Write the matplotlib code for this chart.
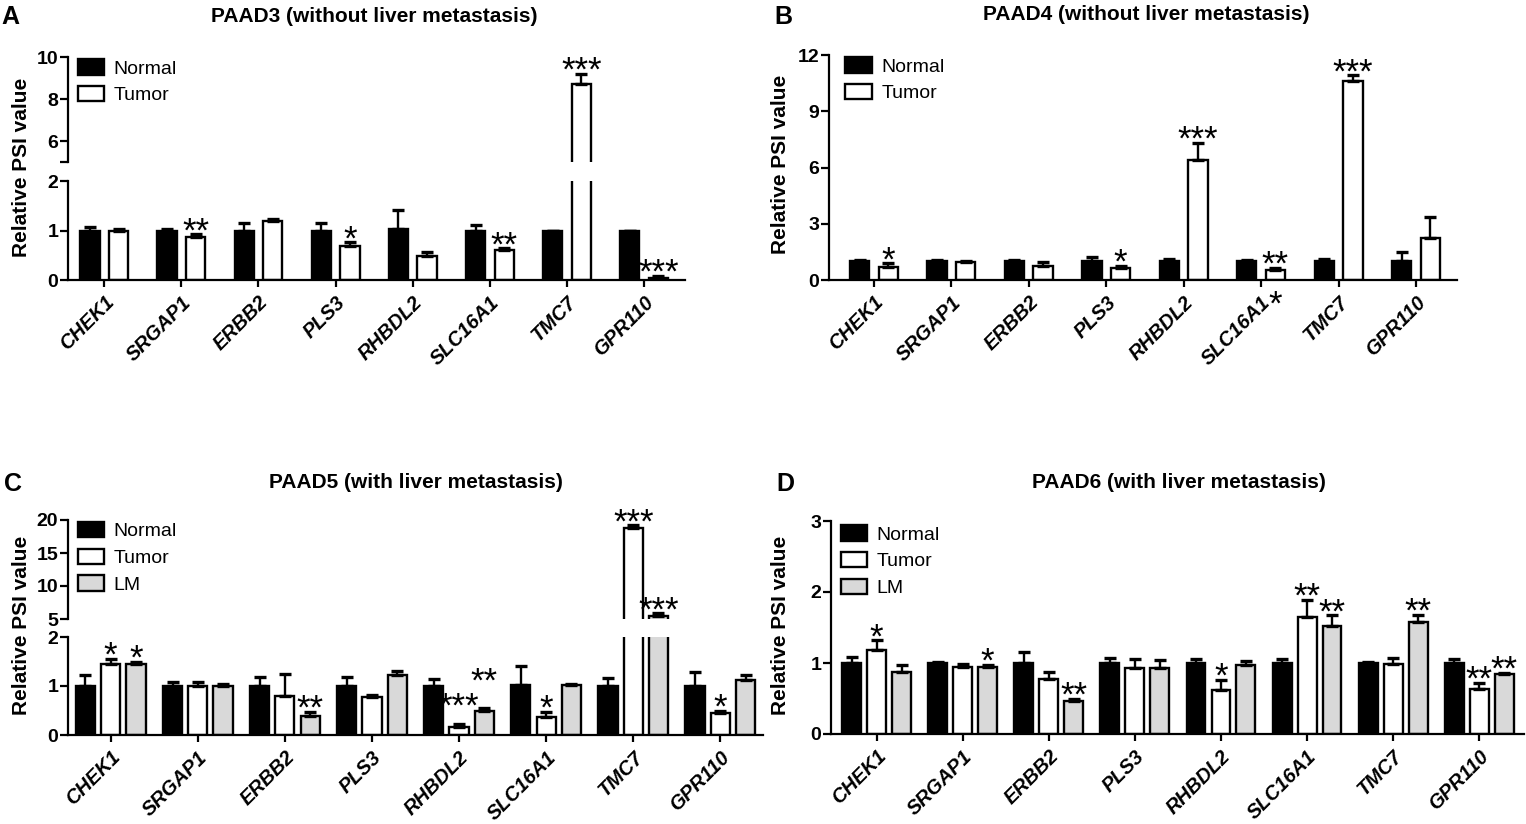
import numpy as np
import matplotlib.pyplot as plt

plt.rcParams['font.family'] = ['Liberation Sans', 'DejaVu Sans']

genes = ["CHEK1", "SRGAP1", "ERBB2", "PLS3", "RHBDL2", "SLC16A1", "TMC7", "GPR110"]

# A: PAAD3 (without liver metastasis)
a_normal = [1.0, 1.0, 1.0, 1.0, 1.03, 1.0, 1.0, 1.0]
a_normal_err = [0.07, 0.04, 0.16, 0.15, 0.39, 0.11, 0.0, 0.0]
a_tumor = [0.98, 0.87, 1.19, 0.69, 0.48, 0.60, 8.7, 0.05]
a_tumor_err = [0.05, 0.05, 0.05, 0.07, 0.08, 0.04, 0.5, 0.04]
a_tumor_sig = ["", "**", "", "*", "", "**", "***", "***"]

# B: PAAD4 (without liver metastasis)
b_normal = [1.0, 1.0, 1.0, 1.0, 1.0, 1.0, 1.0, 1.0]
b_normal_err = [0.05, 0.07, 0.05, 0.24, 0.12, 0.07, 0.1, 0.47]
b_tumor = [0.71, 0.95, 0.76, 0.65, 6.4, 0.55, 10.62, 2.26]
b_tumor_err = [0.18, 0.04, 0.18, 0.11, 0.93, 0.11, 0.3, 1.1]
b_tumor_sig = ["*", "", "", "*", "***", "**", "***", ""]

# C: PAAD5 (with liver metastasis)
c_normal = [1.0, 1.0, 1.0, 1.0, 1.0, 1.03, 1.0, 1.0]
c_normal_err = [0.23, 0.09, 0.18, 0.18, 0.14, 0.37, 0.16, 0.28]
c_tumor = [1.45, 1.0, 0.80, 0.78, 0.17, 0.37, 18.8, 0.44]
c_tumor_err = [0.1, 0.09, 0.45, 0.04, 0.05, 0.1, 0.4, 0.05]
c_tumor_sig = ["*", "", "", "", "***", "*", "***", "*"]
c_lm = [1.45, 1.0, 0.38, 1.23, 0.50, 1.02, 5.5, 1.13]
c_lm_err = [0.05, 0.04, 0.09, 0.08, 0.05, 0.03, 0.35, 0.1]
c_lm_sig = ["*", "", "**", "", "**", "", "***", ""]

# D: PAAD6 (with liver metastasis)
d_normal = [1.0, 1.0, 1.0, 1.0, 1.0, 1.0, 1.0, 1.0]
d_normal_err = [0.08, 0.02, 0.16, 0.07, 0.05, 0.05, 0.01, 0.05]
d_tumor = [1.19, 0.95, 0.78, 0.93, 0.62, 1.65, 0.98, 0.63]
d_tumor_err = [0.13, 0.03, 0.09, 0.12, 0.14, 0.24, 0.09, 0.09]
d_tumor_sig = ["*", "", "", "", "*", "**", "", "**"]
d_lm = [0.88, 0.94, 0.46, 0.93, 0.97, 1.52, 1.58, 0.84]
d_lm_err = [0.09, 0.03, 0.04, 0.11, 0.06, 0.15, 0.1, 0.02]
d_lm_sig = ["", "*", "**", "", "", "**", "**", "**"]

W, H = 1526, 824
fig = plt.figure(figsize=(W / 100, H / 100), dpi=100)


def rect(l, t, r, b):
    return [l / W, 1 - b / H, (r - l) / W, (b - t) / H]


def style(ax, bottom=True):
    ax.spines['top'].set_visible(False)
    ax.spines['right'].set_visible(False)
    ax.spines['left'].set_linewidth(1.6)
    ax.spines['bottom'].set_linewidth(1.6)
    ax.tick_params(axis='y', direction='out', length=6, width=1.6, labelsize=14, pad=1)
    for t in ax.get_yticklabels():
        t.set_fontweight('bold')
    if bottom:
        ax.tick_params(axis='x', direction='out', length=5, width=1.6, pad=4)
        ax.set_xticks(np.arange(len(genes)))
        ax.set_xticklabels(genes, rotation=45, ha='right', rotation_mode='anchor',
                           fontsize=14.5, fontweight='bold', fontstyle='italic')
    else:
        ax.spines['bottom'].set_visible(False)
        ax.tick_params(axis='x', bottom=False, labelbottom=False)


def draw(ax, series, offsets, width, star_y=None):
    x = np.arange(len(genes))
    handles = []
    for i, ((vals, errs, sig, color), off) in enumerate(zip(series, offsets)):
        vals = np.array(vals)
        errs = np.array(errs)
        h = ax.bar(x + off, vals, width, color=color, edgecolor='black', linewidth=1.7, zorder=2)
        handles.append(h)
        ax.errorbar(x + off, vals, yerr=[np.zeros(len(vals)), errs], fmt='none', ecolor='black',
                    elinewidth=1.7, capsize=4.5, capthick=2.4, zorder=3)
        if sig is None:
            continue
        for j, s in enumerate(sig):
            if not s:
                continue
            y = vals[j] + errs[j]
            if star_y and (j, i) in star_y:
                y = star_y[(j, i)]
            ax.annotate(s, (x[j] + off, y), xytext=(0, -5), textcoords='offset points',
                        ha='center', va='baseline', fontsize=25)
    return handles


def legend(ax, handles, labels, anchor):
    ax.legend(handles, labels, loc='upper left', bbox_to_anchor=anchor, frameon=False,
              fontsize=14, handlelength=1.35, handleheight=0.85, handletextpad=0.5,
              labelspacing=0.42, borderaxespad=0, borderpad=0)


off2 = [-0.185, 0.185]
off3 = [-0.29, 0.0, 0.29]
black, white, grey = 'black', 'white', '#d9d9d9'

# ---- A (broken axis) ----
a_series = [(a_normal, a_normal_err, None, black), (a_tumor, a_tumor_err, a_tumor_sig, white)]
axA1 = fig.add_axes(rect(68, 57, 685, 162))
axA0 = fig.add_axes(rect(68, 181, 685, 280))
for ax, lim in [(axA1, (5, 10)), (axA0, (0, 2))]:
    hs = draw(ax, a_series, off2, 0.25)
    ax.set_ylim(*lim)
    ax.set_xlim(-0.47, 7.53)
axA1.set_yticks([5, 6, 8, 10])
axA1.set_yticklabels(['', '6', '8', '10'])
axA0.set_yticks([0, 1, 2])
style(axA1, bottom=False)
style(axA0)
legend(axA1, hs, ['Normal', 'Tumor'], (0.016, 0.98))

# ---- B ----
b_series = [(b_normal, b_normal_err, None, black), (b_tumor, b_tumor_err, b_tumor_sig, white)]
axB = fig.add_axes(rect(829, 55, 1457, 280))
hs = draw(axB, b_series, off2, 0.25)
axB.set_ylim(0, 12)
axB.set_xlim(-0.58, 7.53)
axB.set_yticks([0, 3, 6, 9, 12])
style(axB)
legend(axB, hs, ['Normal', 'Tumor'], (0.026, 0.99))
axB.annotate('*', (5 + off2[1], 0), xytext=(0, -25), textcoords='offset points',
             ha='center', va='baseline', fontsize=25, annotation_clip=False)

# ---- C (broken axis) ----
c_series = [(c_normal, c_normal_err, None, black), (c_tumor, c_tumor_err, c_tumor_sig, white),
            (c_lm, c_lm_err, c_lm_sig, grey)]
c_star_y = {(4, 1): 0.52, (4, 2): 1.02}
axC1 = fig.add_axes(rect(68, 520, 763, 619))
axC0 = fig.add_axes(rect(68, 637, 763, 735))
for ax, lim in [(axC1, (5, 20)), (axC0, (0, 2))]:
    hs = draw(ax, c_series, off3, 0.22, c_star_y)
    ax.set_ylim(*lim)
    ax.set_xlim(-0.49, 7.49)
axC1.set_yticks([5, 10, 15, 20])
axC0.set_yticks([0, 1, 2])
style(axC1, bottom=False)
style(axC0)
legend(axC1, hs, ['Normal', 'Tumor', 'LM'], (0.014, 0.98))

# ---- D ----
d_series = [(d_normal, d_normal_err, None, black), (d_tumor, d_tumor_err, d_tumor_sig, white),
            (d_lm, d_lm_err, d_lm_sig, grey)]
axD = fig.add_axes(rect(831, 521, 1524, 734))
hs = draw(axD, d_series, off3, 0.22)
axD.set_ylim(0, 3)
axD.set_xlim(-0.53, 7.52)
axD.set_yticks([0, 1, 2, 3])
style(axD)
legend(axD, hs, ['Normal', 'Tumor', 'LM'], (0.014, 0.98))

# titles, panel letters, y labels
for letter, lx, ly, title, tx, ty, yx, yy in [
        ('A', 10, 17, 'PAAD3 (without liver metastasis)', 374, 17, 22, 167),
        ('B', 783, 17, 'PAAD4 (without liver metastasis)', 1146, 15, 781, 164),
        ('C', 13, 484, 'PAAD5 (with liver metastasis)', 416, 483, 22, 625),
        ('D', 785, 484, 'PAAD6 (with liver metastasis)', 1179, 483, 781, 625)]:
    fig.text(lx / W, 1 - ly / H, letter, ha='center', va='center', fontsize=18, fontweight='bold')
    fig.text(tx / W, 1 - ty / H, title, ha='center', va='center', fontsize=15, fontweight='bold')
    fig.text(yx / W, 1 - yy / H, 'Relative PSI value', ha='center', va='center', rotation=90,
             fontsize=15, fontweight='bold')

fig.savefig('out.png', dpi=100)
